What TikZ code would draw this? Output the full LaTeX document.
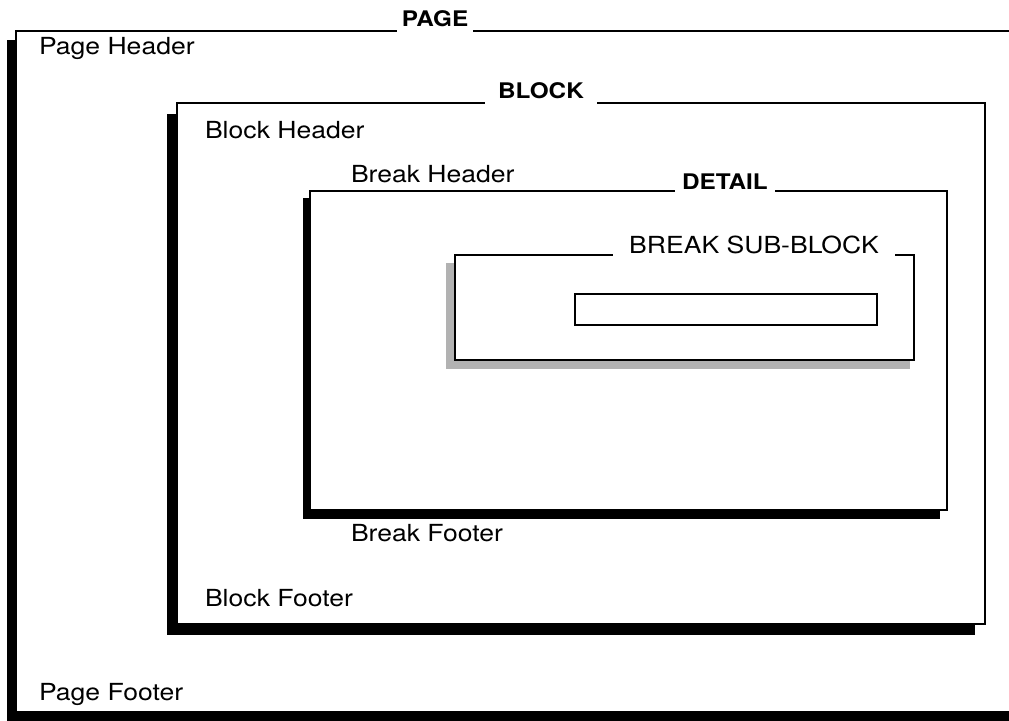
\documentclass[tikz,border=0pt]{standalone}
\usepackage{fontspec}
\setmainfont[FakeStretch=1.13]{TeX Gyre Heros}
\begin{document}
\begin{tikzpicture}[x=1pt,y=-1pt,line width=2pt,
  frame/.style={draw=black,fill=white},
  boxtext/.style={anchor=base west,inner sep=0pt,font=\fontsize{23.5}{28}\selectfont},
  boxtitle/.style={anchor=base,fill=white,inner ysep=6pt,font=\fontsize{21.5}{26}\selectfont\bfseries}]
  \definecolor{shadegrey}{gray}{0.70}
  \useasboundingbox (0,0) rectangle (1009,720);
  \clip (0,0) rectangle (1009,720);

  %% each frame is a shadow (shifted down-left) with a white box on top
  \fill[black] (7,40) rectangle (1011,722);
  \draw[frame] (16,31) rectangle (1020,712);
  \fill[black] (167,114) rectangle (975,635);
  \draw[frame] (177,103) rectangle (985,624);
  \fill[black] (303,198) rectangle (940,519);
  \draw[frame] (310,191) rectangle (947,510);
  \fill[shadegrey] (446,263) rectangle (910,369);
  \draw[frame] (455,255) rectangle (914,360);
  \draw (575,294) rectangle (877,325);

  %% titles sit on the top lines and break them
  \node[boxtitle,inner xsep=5pt] (pagetitle) at (435,27) {PAGE};
  \node[boxtitle,inner xsep=13.5pt] (blocktitle) at (541,98) {BLOCK};
  \node[boxtitle,inner xsep=7.5pt] (detailtitle) at (725,189) {DETAIL};
  \node[boxtitle,inner xsep=16.5pt,font=\fontsize{23.5}{28}\selectfont] (subtitle) at (754,253) {BREAK SUB-BLOCK};

  %% headers and footers
  \node[boxtext] (pagehead) at (38,54) {Page Header};
  \node[boxtext] (blockhead) at (204,138) {Block Header};
  \node[boxtext] (breakhead) at (350,182) {Break Header};
  \node[boxtext] (breakfoot) at (350,541) {Break Footer};
  \node[boxtext] (blockfoot) at (204,606) {Block Footer};
  \node[boxtext] (pagefoot) at (38,700) {Page Footer};
\end{tikzpicture}
\end{document}
